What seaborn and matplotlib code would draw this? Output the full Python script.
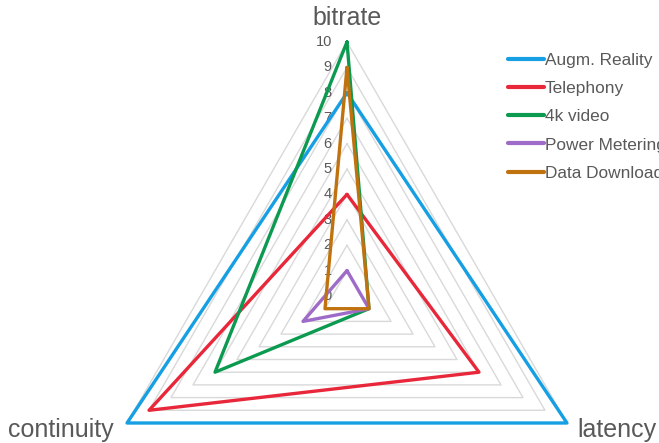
"""Radar chart of service requirements (bitrate / latency / continuity)."""
import matplotlib.pyplot as plt
import numpy as np
import pandas as pd
import seaborn as sns

axes_names = ["bitrate", "latency", "continuity"]
series_names = ["Augm. Reality", "Telephony", "4k video", "Power Metering", "Data Download"]
augm_reality = [8, 10, 10]
telephony = [4, 6, 9]
video_4k = [10, 1, 6]
power_metering = [1, 1, 2]
data_download = [9, 1, 1]
grid_levels = list(range(0, 11))

colors = ["#169fe3", "#e8283a", "#0b9a50", "#9e6cc8", "#c0720f"]
text_grey = "#595959"

# angles: bitrate up, latency lower right, continuity lower left
angles = np.deg2rad([90, -30, 210])


def to_xy(values):
    v = np.asarray(values, dtype=float)
    v = np.append(v, v[0])
    a = np.append(angles, angles[0])
    return v * np.cos(a), v * np.sin(a)


rows = []
for name, vals in zip(series_names, [augm_reality, telephony, video_4k, power_metering, data_download]):
    xs, ys = to_xy(vals)
    for i, (x, y) in enumerate(zip(xs, ys)):
        rows.append({"series": name, "order": i, "x": x, "y": y})
df = pd.DataFrame(rows)

sns.set_style("white")
plt.rcParams["font.family"] = ["Liberation Sans", "DejaVu Sans"]

fig = plt.figure(figsize=(6.59, 4.43), dpi=100)
ax = fig.add_axes([0, 0, 1, 1])
scale = 25.4
ax.set_xlim(-347 / scale, (659 - 347) / scale)
ax.set_ylim((296 - 443) / scale, 296 / scale)
ax.set_axis_off()

# triangular grid
for lvl in grid_levels[1:]:
    gx, gy = to_xy([lvl] * 3)
    ax.plot(gx, gy, color="#d9d9d9", lw=1.0, zorder=1)

# radial tick labels
for lvl in grid_levels:
    ax.text(-0.6, lvl, str(lvl), ha="right", va="center", fontsize=10.5, color=text_grey, zorder=2)

sns.lineplot(
    data=df, x="x", y="y", hue="series", hue_order=series_names, palette=colors,
    sort=False, estimator=None, units="series", linewidth=2.4, ax=ax, zorder=3,
)

# axis labels
ax.text(0, 10.67, axes_names[0], ha="center", va="baseline", fontsize=18, color=text_grey)
ax.text(9.06, -5.55, axes_names[1], ha="left", va="baseline", fontsize=18, color=text_grey)
ax.text(-9.2, -5.55, axes_names[2], ha="right", va="baseline", fontsize=18, color=text_grey)

# legend runs off the right edge, as in the original
leg = ax.legend(
    loc="upper left", bbox_to_anchor=(493 / 659, 1 - 37 / 443), frameon=False,
    fontsize=12.4, handlelength=2.05, handletextpad=0.05, labelspacing=0.77,
)
for line in leg.get_lines():
    line.set_linewidth(3)
for t in leg.get_texts():
    t.set_color(text_grey)

fig.savefig("out.png", dpi=100)
